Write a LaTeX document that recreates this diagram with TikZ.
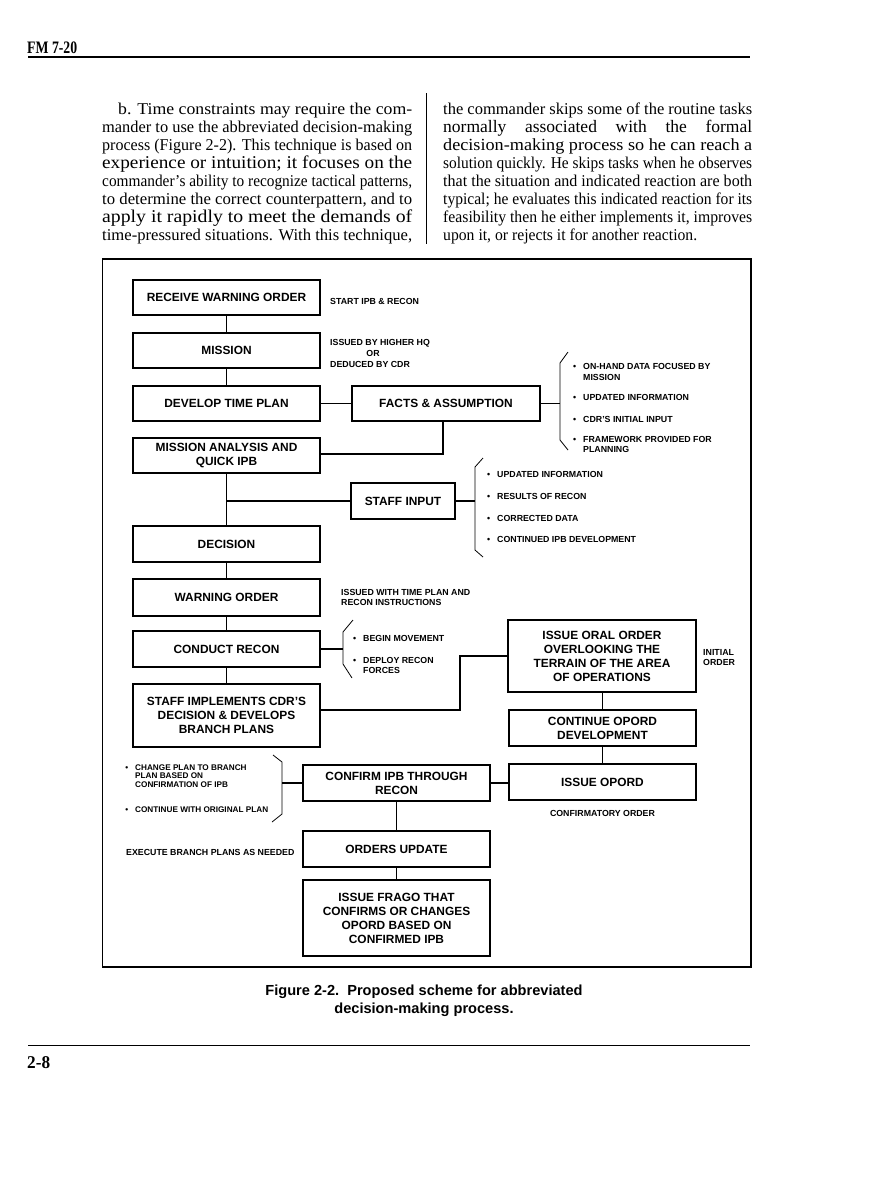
\documentclass[tikz,border=0pt]{standalone}
\usepackage{fontspec}
\usepackage{graphicx}
\setmainfont{Liberation Serif}
\setsansfont{Liberation Sans}
\newcommand{\bodyline}[3][16.5]{\resizebox{#2}{\height}{\fontsize{#1}{#1}\selectfont #3}}
\begin{document}
\begin{tikzpicture}[x=1pt,y=-1pt,
  box/.style={draw, line width=1.6pt, inner sep=0pt, align=center,
    minimum width=187pt, minimum height=36pt,
    font=\sffamily\bfseries\fontsize{11.9}{14}\selectfont},
  lab/.style={inner sep=0pt, align=left, anchor=west,
    font=\sffamily\bfseries\fontsize{8.8}{10.5}\selectfont},
  smalllab/.style={lab, font=\sffamily\bfseries\fontsize{8.2}{8.6}\selectfont},
  conn/.style={line width=1.1pt},
  bracel/.style={line width=0.8pt},
  bline/.style={anchor=base west, inner sep=0pt},
]
\fill[white] (0,0) rectangle (892,1200);
\useasboundingbox (0,0) rectangle (892,1200);

% page header
\node[bline, font=\bfseries] (hdr) at (27,53.5) {\bodyline[17.5]{50pt}{FM 7-20}};
\draw[line width=1.8pt] (28,57) -- (750,57);

% body text
\node[bline] (L1) at (118,114) {\bodyline{294pt}{b. Time constraints may require the com-}};
\node[bline] (L2) at (102,132) {\bodyline{310pt}{mander to use the abbreviated decision-making}};
\node[bline] (L3) at (102,150) {\bodyline{310pt}{process (Figure 2-2). This technique is based on}};
\node[bline] (L4) at (102,168) {\bodyline[18]{310pt}{experience or intuition; it focuses on the}};
\node[bline] (L5) at (102,186) {\bodyline{310pt}{commander’s ability to recognize tactical patterns,}};
\node[bline] (L6) at (102,204) {\bodyline{310pt}{to determine the correct counterpattern, and to}};
\node[bline] (L7) at (102,222) {\bodyline[18]{310pt}{apply it rapidly to meet the demands of}};
\node[bline] (L8) at (102,240) {\bodyline{310pt}{time-pressured situations. With this technique,}};
\draw[line width=1pt] (426,93) -- (426,244);
\node[bline] (R1) at (443,114) {\bodyline{309pt}{the commander skips some of the routine tasks}};
\node[bline] (R2) at (443,132) {\makebox[309pt][s]{\fontsize{17.5}{17.5}\selectfont normally associated with the formal}};
\node[bline] (R3) at (443,150) {\bodyline[17]{309pt}{decision-making process so he can reach a}};
\node[bline] (R4) at (443,168) {\bodyline{309pt}{solution quickly. He skips tasks when he observes}};
\node[bline] (R5) at (443,186) {\bodyline{309pt}{that the situation and indicated reaction are both}};
\node[bline] (R6) at (443,204) {\bodyline{309pt}{typical; he evaluates this indicated reaction for its}};
\node[bline] (R7) at (443,222) {\bodyline{309pt}{feasibility then he either implements it, improves}};
\node[bline] (R8) at (443,240) {\bodyline{254pt}{upon it, or rejects it for another reaction.}};

% figure frame
\draw[line width=1.6pt] (102.5,259) rectangle (751,967);

% boxes
\node[box, minimum height=35pt] (rwo) at (226.5,297.5) {RECEIVE WARNING ORDER};
\node[box, minimum height=35pt] (mis) at (226.5,350.5) {MISSION};
\node[box, minimum height=35pt] (dtp) at (226.5,403.5) {DEVELOP TIME PLAN};
\node[box, minimum width=188pt, minimum height=35pt] (fac) at (446,403.5) {FACTS \& ASSUMPTION};
\node[box, minimum height=35pt] (maq) at (226.5,455.5) {MISSION ANALYSIS AND\\QUICK IPB};
\node[box, minimum width=104pt] (sti) at (403,501) {STAFF INPUT};
\node[box] (dec) at (226.5,544) {DECISION};
\node[box, minimum height=37pt] (wo) at (226.5,597.5) {WARNING ORDER};
\node[box] (cr) at (226.5,649) {CONDUCT RECON};
\node[box, minimum height=63pt] (sid) at (226.5,715.5) {STAFF IMPLEMENTS CDR’S\\DECISION \& DEVELOPS\\BRANCH PLANS};
\node[box, minimum width=188pt, minimum height=72pt] (ioo) at (602,656) {ISSUE ORAL ORDER\\OVERLOOKING THE\\TERRAIN OF THE AREA\\OF OPERATIONS};
\node[box] (cod) at (602.5,728) {CONTINUE OPORD\\DEVELOPMENT};
\node[box] (iop) at (602.5,782) {ISSUE OPORD};
\node[box] (cip) at (396.5,783) {CONFIRM IPB THROUGH\\RECON};
\node[box] (oup) at (396.5,849) {ORDERS UPDATE};
\node[box, minimum height=76pt] (fra) at (396.5,918) {ISSUE FRAGO THAT\\CONFIRMS OR CHANGES\\OPORD BASED ON\\CONFIRMED IPB};

% connectors
\draw[conn] (rwo) -- (mis);
\draw[conn] (mis) -- (dtp);
\draw[conn] (dtp) -- (fac);
\coordinate (fj) at (443,454);
\draw[conn] (fac.south -| fj) -- (fj) -- (maq.east |- fj);
\draw[conn] (maq) -- (dec);
\draw[conn] (sti.west) -- (maq.south |- sti.west);
\draw[conn] (dec) -- (wo);
\draw[conn] (wo) -- (cr);
\draw[conn] (cr) -- (sid);
\coordinate (sj) at (460,710);
\draw[conn] (sid.east |- sj) -- (sj) |- (ioo.west);
\draw[conn] (ioo.south -| cod.north) -- (cod.north);
\draw[conn] (cod) -- (iop);
\draw[conn] (cip.east) -- (iop.west |- cip.east);
\draw[conn] (cip) -- (oup);
\draw[conn] (oup) -- (fra);

% side labels
\node[lab] (t1) at (330,301) {START IPB \& RECON};
\node[lab] (t2a) at (330,343) {ISSUED BY HIGHER HQ};
\node[lab, anchor=center] (t2b) at (373,353) {OR};
\node[lab] (t2c) at (330,364) {DEDUCED BY CDR};
\node[lab] (t3) at (341,597.5) {ISSUED WITH TIME PLAN AND\\RECON INSTRUCTIONS};
\node[lab] (t4) at (703,657.5) {INITIAL\\ORDER};
\node[lab, anchor=center] (t5) at (602.5,813) {CONFIRMATORY ORDER};
\node[lab] (t6) at (126,852) {EXECUTE BRANCH PLANS AS NEEDED};

% facts brace and list
\coordinate (fb) at (560,403.5);
\draw[bracel] (568,352) -- (560,363) -- (560,440) -- (568,450);
\draw[conn] (fac.east) -- (fb);
\node[lab] (f1) at (583,372) {\llap{\textbullet\hspace{7pt}}ON-HAND DATA FOCUSED BY\\MISSION};
\node[lab] (f2) at (583,397) {\llap{\textbullet\hspace{7pt}}UPDATED INFORMATION};
\node[lab] (f3) at (583,419) {\llap{\textbullet\hspace{7pt}}CDR’S INITIAL INPUT};
\node[lab] (f4) at (583,444.5) {\llap{\textbullet\hspace{7pt}}FRAMEWORK PROVIDED FOR\\PLANNING};

% staff input brace and list
\coordinate (sb) at (475,501);
\draw[bracel] (483,458) -- (475,467) -- (475,550) -- (483,557);
\draw[conn] (sti.east) -- (sb);
\node[lab] (s1) at (497,474) {\llap{\textbullet\hspace{7pt}}UPDATED INFORMATION};
\node[lab] (s2) at (497,496) {\llap{\textbullet\hspace{7pt}}RESULTS OF RECON};
\node[lab] (s3) at (497,518) {\llap{\textbullet\hspace{7pt}}CORRECTED DATA};
\node[lab] (s4) at (497,539) {\llap{\textbullet\hspace{7pt}}CONTINUED IPB DEVELOPMENT};

% conduct recon brace and list
\coordinate (cb) at (343,649);
\draw[bracel] (353,620) -- (343,632) -- (343,664) -- (352,678);
\draw[conn] (cr.east) -- (cb);
\node[lab] (c1) at (363,638) {\llap{\textbullet\hspace{7pt}}BEGIN MOVEMENT};
\node[lab] (c2) at (363,665.5) {\llap{\textbullet\hspace{7pt}}DEPLOY RECON\\FORCES};

% confirm ipb brace and list
\coordinate (pb) at (282,783);
\draw[bracel] (273,755) -- (282,762) -- (282,814) -- (272,822);
\draw[conn] (pb) -- (cip.west);
\node[smalllab] (p1) at (135,776) {\llap{\textbullet\hspace{7pt}}CHANGE PLAN TO BRANCH\\PLAN BASED ON\\CONFIRMATION OF IPB};
\node[smalllab] (p2) at (135,810) {\llap{\textbullet\hspace{7pt}}CONTINUE WITH ORIGINAL PLAN};

% caption
\node[align=center, inner sep=0pt, font=\sffamily\bfseries\fontsize{14.6}{18}\selectfont] (cap) at (424,1001) {Figure 2-2.\ \ Proposed scheme for abbreviated\\decision-making process.};

% page footer
\draw[line width=1.8pt] (28,1045.5) -- (750,1045.5);
\node[bline, font=\bfseries] (pg) at (27,1068) {\bodyline[18]{23pt}{2-8}};
\end{tikzpicture}
\end{document}
